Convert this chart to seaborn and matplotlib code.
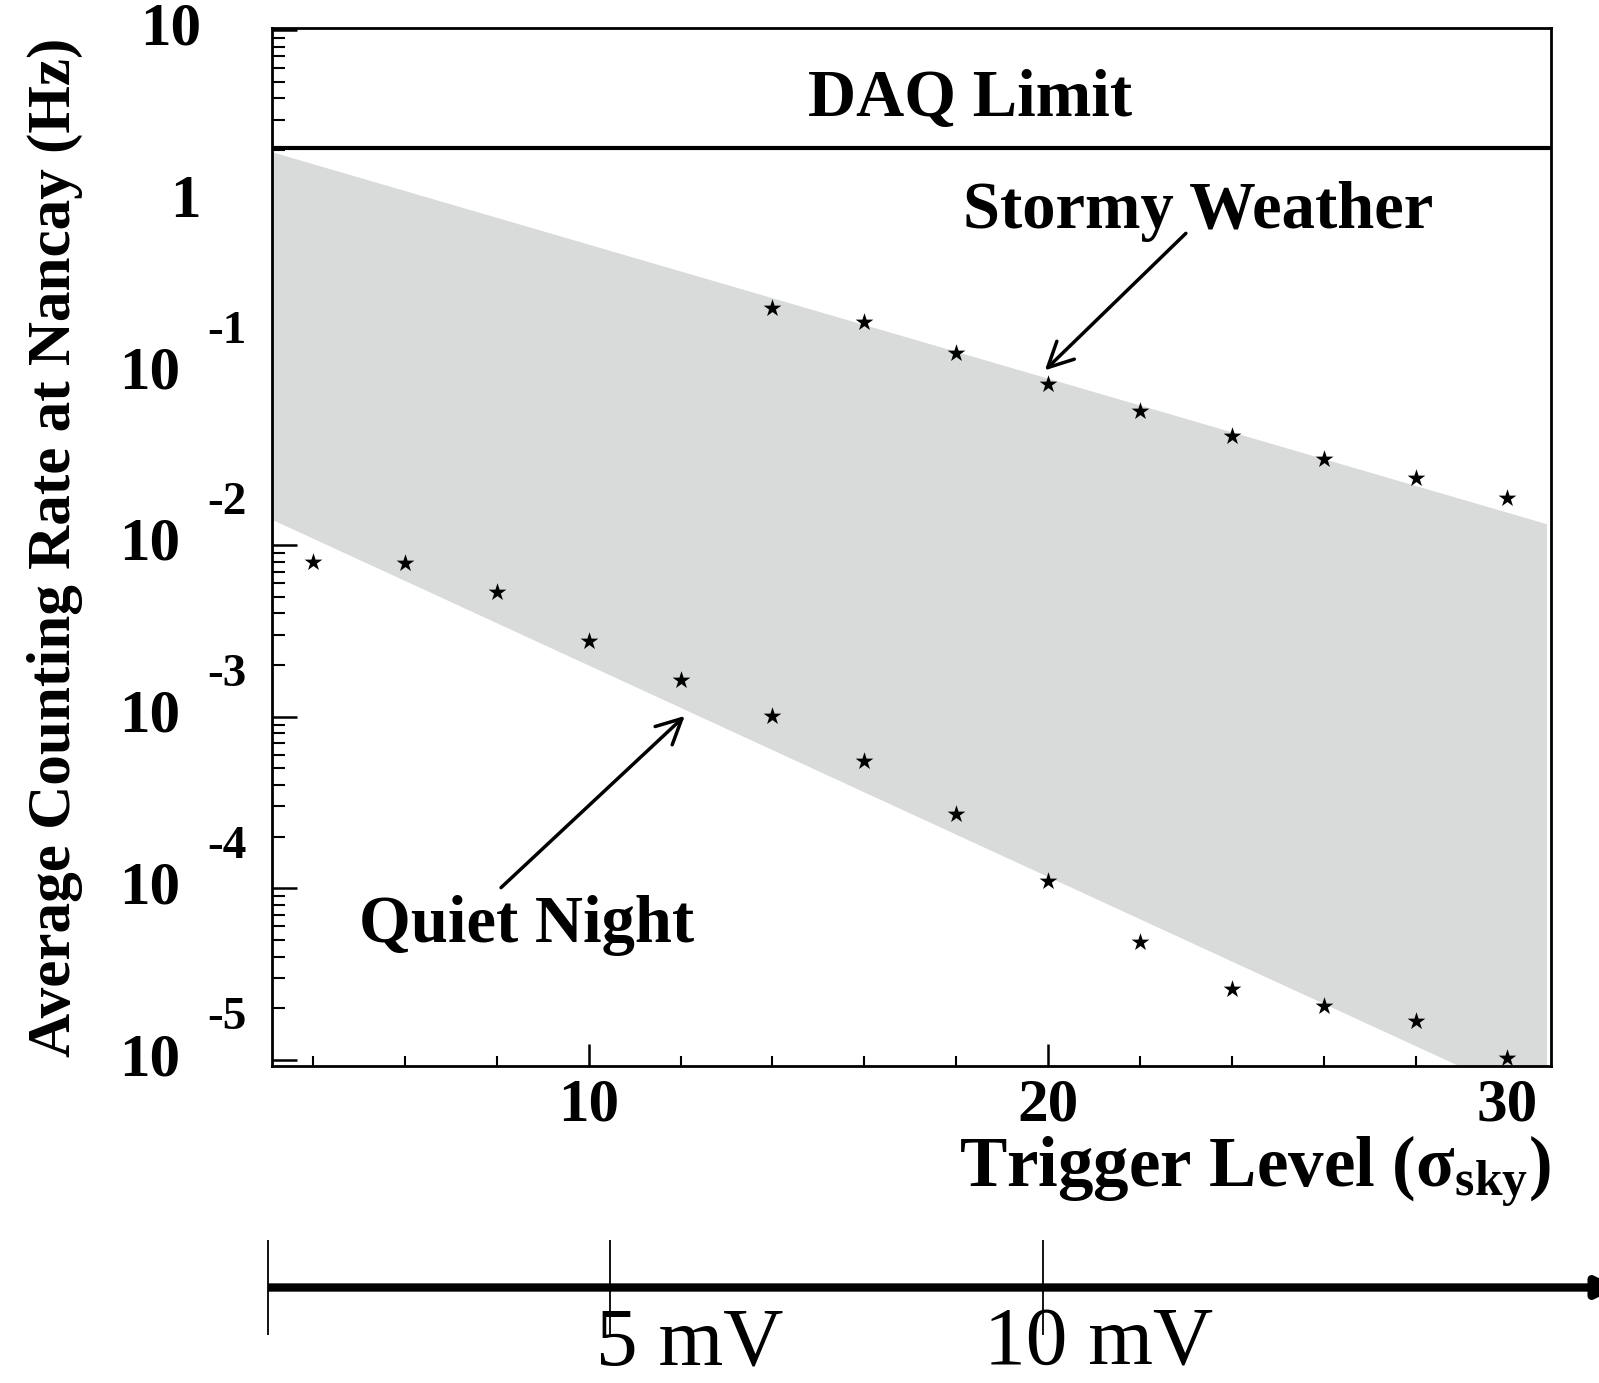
import numpy as np
import pandas as pd
import seaborn as sns
import matplotlib.pyplot as plt
from matplotlib.ticker import MultipleLocator, FixedLocator, NullFormatter, LogLocator

sns.set_style('ticks')
plt.rcParams['font.family'] = ['Liberation Serif', 'DejaVu Serif']
plt.rcParams['mathtext.fontset'] = 'custom'
plt.rcParams['mathtext.rm'] = 'Liberation Serif:bold'
plt.rcParams['mathtext.it'] = 'Liberation Serif:bold'
plt.rcParams['mathtext.bf'] = 'Liberation Serif:bold'
for k in ['text.color', 'axes.labelcolor', 'xtick.color', 'ytick.color', 'axes.edgecolor']:
    plt.rcParams[k] = 'black'

# dati
trigger_quiet = [4, 6, 8, 10, 12, 14, 16, 18, 20, 22, 24, 26, 28, 30]
rate_quiet = [8.0e-3, 7.8e-3, 5.3e-3, 2.75e-3, 1.64e-3, 1.01e-3, 5.55e-4,
              2.72e-4, 1.10e-4, 4.9e-5, 2.58e-5, 2.07e-5, 1.68e-5, 1.03e-5]
trigger_stormy = [14, 16, 18, 20, 22, 24, 26, 28, 30]
rate_stormy = [0.240, 0.199, 0.1315, 0.0871, 0.0602, 0.0434, 0.0316, 0.0244, 0.0188]

band_x = [3.1, 30.85]
band_upper = [1.95, 0.0133]
band_lower = [0.0141, 5.4e-6]

daq_limit = 2.04

ytick_values = [1e-5, 1e-4, 1e-3, 1e-2, 1e-1, 1, 10]
ytick_base = ['10', '10', '10', '10', '10', '1', '10']
ytick_exp = ['-5', '-4', '-3', '-2', '-1', '', '']

xtick_values = [10, 20, 30]
xtick_labels = ['10', '20', '30']

mv_tick_x = [3.02, 10.47, 19.89]
mv_label_x = [12.2, 21.1]
mv_labels = ['5 mV', '10 mV']

df_q = pd.DataFrame({'trigger': trigger_quiet, 'rate': rate_quiet})
df_s = pd.DataFrame({'trigger': trigger_stormy, 'rate': rate_stormy})

fig = plt.figure(figsize=(15.99, 13.83), dpi=100)
ax = fig.add_axes([0.170, 0.229, 0.800, 0.751])
ax.set_yscale('log')

ax.fill_between(band_x, band_lower, band_upper, color='#d9dada', lw=0, zorder=1)
sns.scatterplot(data=df_q, x='trigger', y='rate', marker='*', s=180, color='black',
                edgecolor='black', linewidth=0, ax=ax, zorder=3)
sns.scatterplot(data=df_s, x='trigger', y='rate', marker='*', s=180, color='black',
                edgecolor='black', linewidth=0, ax=ax, zorder=3)
ax.axhline(daq_limit, color='black', lw=3, zorder=2)

ax.set_xlim(3.1, 30.95)
ax.set_ylim(0.92e-5, 10.3)

bold = dict(fontweight='bold', family='Liberation Serif')
ax.text(18.3, 3.94, 'DAQ Limit', ha='center', va='center', fontsize=48, **bold)
ax.text(23.27, 0.871, 'Stormy Weather', ha='center', va='center', fontsize=48, **bold)
ax.text(8.64, 6.1e-5, 'Quiet Night', ha='center', va='center', fontsize=48, **bold)

arrow = dict(arrowstyle='->', lw=2.5, color='black', mutation_scale=45,
             shrinkA=0, shrinkB=0)
ax.annotate('', xy=(19.93, 0.104), xytext=(23.0, 0.653), arrowprops=arrow)
ax.annotate('', xy=(12.09, 1.01e-3), xytext=(8.09, 1.01e-4), arrowprops=arrow)

# assi
for s in ax.spines.values():
    s.set_linewidth(2)
ax.xaxis.set_major_locator(FixedLocator(xtick_values))
ax.xaxis.set_minor_locator(MultipleLocator(2))
ax.set_xticklabels(xtick_labels, fontweight='bold')
ax.yaxis.set_major_locator(FixedLocator(ytick_values))
ax.yaxis.set_minor_locator(LogLocator(base=10, subs=np.arange(2, 10)))
ax.yaxis.set_major_formatter(NullFormatter())
ax.yaxis.set_minor_formatter(NullFormatter())
ax.tick_params(axis='y', which='major', direction='in', length=18, width=1.8)
ax.tick_params(axis='y', which='minor', direction='in', length=9, width=1.5)
ax.tick_params(axis='x', which='major', direction='in', length=16, width=1.8,
               labelsize=44, pad=8)
ax.tick_params(axis='x', which='minor', direction='in', length=7, width=1.5)

# etichette asse y stile ROOT (base + esponente)
ytrans = ax.get_yaxis_transform()
for val, base, ex in zip(ytick_values, ytick_base, ytick_exp):
    if ex:
        ax.text(-0.0719, val, base, transform=ytrans, ha='right', va='center',
                fontsize=44, **bold)
        ax.annotate(ex, xy=(-0.0508, val), xycoords=ytrans, xytext=(0, 30),
                    textcoords='offset points', ha='left', va='center',
                    fontsize=34, **bold)
    else:
        ax.text(-0.0555, val, base, transform=ytrans, ha='right', va='center',
                fontsize=44, **bold)

ax.set_xlabel(r'Trigger Level ($\mathbf{\sigma_{sky}}$)', loc='right',
              fontsize=51, labelpad=0, **bold)
ax.set_ylabel('Average Counting Rate at Nancay (Hz)', fontsize=44, **bold)
ax.yaxis.set_label_coords(-0.148, 0.5)

# scala in mV
ax2 = fig.add_axes([0.170, 0.0347, 0.800, 0.0687])
ax2.set_xlim(ax.get_xlim())
ax2.set_ylim(-1, 1)
ax2.axis('off')
ax2.annotate('', xy=(32.4, 0), xytext=(mv_tick_x[0], 0), annotation_clip=False,
             arrowprops=dict(arrowstyle='-|>', lw=6, color='black',
                             mutation_scale=30, shrinkA=0, shrinkB=0,
                             capstyle='butt'))
ax2.vlines(mv_tick_x, -1, 1, color='black', lw=1.3, clip_on=False)
for xpos, lab in zip(mv_label_x, mv_labels):
    ax2.text(xpos, 0.3, lab, ha='center', va='top', fontsize=60,
             family='Liberation Serif', transform=ax2.get_xaxis_transform())

plt.savefig('out.png', dpi=100)
